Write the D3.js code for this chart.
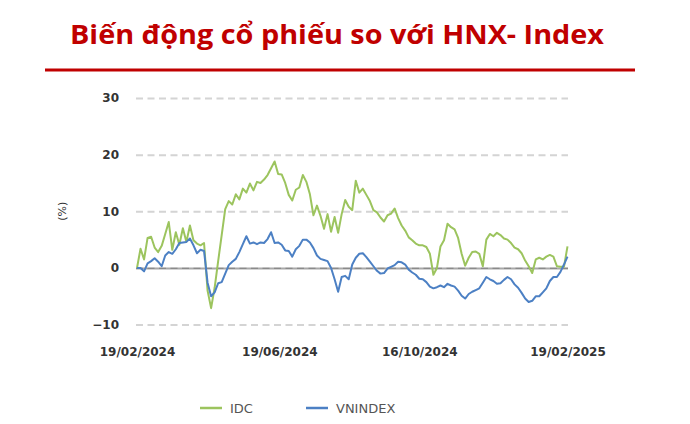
<!DOCTYPE html>
<html><head><meta charset="utf-8">
<script src="https://cdn.jsdelivr.net/npm/d3@7"></script>
<style>body{margin:0;background:#fff}svg{display:block}</style>
</head><body><svg id="c" width="690" height="424"></svg>
<script>
const title = "Biến động cổ phiếu so với HNX- Index";
const yAxisTitle = "(%)";
const seriesNames = ["IDC", "VNINDEX"];
const yTicks = [-10, 0, 10, 20, 30];
const xTickLabels = ["19/02/2024", "19/06/2024", "16/10/2024", "19/02/2025"];

const dates = [
"2024-02-19","2024-02-22","2024-02-25","2024-02-28",
"2024-03-02","2024-03-05","2024-03-08","2024-03-11","2024-03-14","2024-03-17","2024-03-20","2024-03-23","2024-03-26","2024-03-29",
"2024-04-01","2024-04-04","2024-04-07","2024-04-10","2024-04-13","2024-04-16","2024-04-19","2024-04-22","2024-04-25","2024-04-28",
"2024-05-01","2024-05-04","2024-05-07","2024-05-10","2024-05-13","2024-05-16","2024-05-19","2024-05-22","2024-05-25","2024-05-28","2024-05-31",
"2024-06-03","2024-06-06","2024-06-09","2024-06-12","2024-06-15","2024-06-18","2024-06-21","2024-06-24","2024-06-27","2024-06-30",
"2024-07-03","2024-07-06","2024-07-09","2024-07-12","2024-07-15","2024-07-18","2024-07-21","2024-07-24","2024-07-27","2024-07-30",
"2024-08-02","2024-08-05","2024-08-08","2024-08-11","2024-08-14","2024-08-17","2024-08-20","2024-08-23","2024-08-26","2024-08-29",
"2024-09-01","2024-09-04","2024-09-07","2024-09-10","2024-09-13","2024-09-16","2024-09-19","2024-09-22","2024-09-25","2024-09-28",
"2024-10-01","2024-10-04","2024-10-07","2024-10-10","2024-10-13","2024-10-16","2024-10-19","2024-10-22","2024-10-25","2024-10-28","2024-10-31",
"2024-11-03","2024-11-06","2024-11-09","2024-11-12","2024-11-15","2024-11-18","2024-11-21","2024-11-24","2024-11-27","2024-11-30",
"2024-12-03","2024-12-06","2024-12-09","2024-12-12","2024-12-15","2024-12-18","2024-12-21","2024-12-24","2024-12-27","2024-12-30",
"2025-01-02","2025-01-05","2025-01-08","2025-01-11","2025-01-14","2025-01-17","2025-01-20","2025-01-23","2025-01-26","2025-01-29",
"2025-02-01","2025-02-04","2025-02-07","2025-02-10","2025-02-13","2025-02-16","2025-02-19"
];

const idc = [
0.0,3.4,1.5,5.3,5.5,3.6,2.8,3.9,6.0,8.1,
3.2,6.3,4.1,7.0,4.6,7.5,4.9,4.3,4.0,4.4,
-4.0,-7.1,-3.5,1.2,5.8,10.4,11.8,11.2,13.0,12.1,
14.0,13.3,14.9,13.7,15.2,15.0,15.6,16.4,17.6,18.8,
16.6,16.5,15.0,12.9,11.9,13.8,14.2,16.4,15.2,13.0,
9.3,11.0,9.2,6.9,9.5,6.4,9.0,6.2,9.5,12.0,
10.8,10.2,15.4,13.3,14.0,12.9,11.8,10.2,9.8,8.9,
8.2,9.3,9.6,10.5,8.8,7.5,6.6,5.4,4.9,4.3,
4.0,4.0,3.7,2.5,-1.2,0.0,3.8,4.9,7.8,7.2,
6.8,5.3,2.5,0.4,1.8,2.8,2.9,2.5,0.3,5.0,
6.0,5.6,6.2,5.8,5.2,5.0,4.4,3.6,3.3,2.6,
1.3,0.3,-0.9,1.5,1.8,1.5,2.0,2.3,2.0,0.3,
0.2,0.2,3.8
];

const vnindex = [
0.0,0.0,-0.6,0.8,1.2,1.7,1.1,0.3,2.2,2.8,
2.5,3.3,4.4,4.5,4.6,5.2,4.0,2.6,3.2,3.0,
-2.6,-5.0,-4.3,-2.7,-2.5,-1.0,0.5,1.1,1.6,2.8,
4.2,5.6,4.3,4.5,4.2,4.5,4.4,5.1,6.3,4.4,
4.5,4.1,3.1,3.0,2.0,3.3,3.9,5.0,5.0,4.5,
3.5,2.2,1.6,1.4,1.2,0.0,-2.0,-4.2,-1.6,-1.4,
-2.0,0.6,1.8,2.5,2.6,1.9,1.1,0.3,-0.5,-1.0,
-0.9,-0.1,0.2,0.5,1.1,1.0,0.6,-0.3,-0.8,-1.2,
-1.9,-2.0,-2.5,-3.3,-3.6,-3.4,-3.1,-3.4,-2.8,-3.1,
-3.3,-4.0,-4.9,-5.4,-4.6,-4.2,-3.9,-3.6,-2.6,-1.6,
-2.0,-2.3,-2.8,-2.7,-2.1,-1.6,-2.0,-2.9,-3.5,-4.4,
-5.4,-6.0,-5.8,-5.0,-5.0,-4.3,-3.6,-2.3,-1.6,-1.6,
-0.7,0.6,2.0
];

const colors = ["#9cc45e", "#4c80c4"];
const red = "#c00000";

const parse = d3.timeParse("%Y-%m-%d");
const parseLbl = d3.timeParse("%d/%m/%Y");
const svg = d3.select("#c");

const x = d3.scaleTime()
  .domain([parse(dates[0]), parse(dates[dates.length - 1])])
  .range([137, 567.5]);
const y = d3.scaleLinear().domain([-10, 30]).range([324.6, 98]);

// Title
svg.append("text")
  .attr("x", 70).attr("y", 44)
  .attr("textLength", 534).attr("lengthAdjust", "spacingAndGlyphs")
  .style("font-family", "'Open Sans', sans-serif")
  .style("font-weight", 700).style("font-size", "27px")
  .attr("fill", red).text(title);
svg.append("rect").attr("x", 45).attr("y", 68.5).attr("width", 590).attr("height", 3).attr("fill", red);

// Y axis with gridlines
const gy = svg.append("g").attr("transform", "translate(136,0)")
  .call(d3.axisLeft(y).tickValues(yTicks).tickSize(-432).tickPadding(17).tickFormat(d3.format("d")));
gy.select(".domain").remove();
gy.selectAll(".tick line")
  .attr("stroke", d => d === 0 ? "#a8a8a8" : "#d4d4d4")
  .attr("stroke-width", 2)
  .attr("stroke-dasharray", d => d === 0 ? null : "7,4.5");
gy.selectAll(".tick").filter(d => d === 0).append("line")
  .attr("x2", 432).attr("stroke", "#8a8a8a").attr("stroke-width", 1.2).attr("stroke-dasharray", "7,4.5");
gy.selectAll(".tick text")
  .attr("fill", "#333").style("font-family", "'DejaVu Sans', sans-serif")
  .style("font-weight", 700).style("font-size", "12px");

svg.append("text")
  .attr("transform", `translate(62,${y(10)}) rotate(-90)`)
  .attr("text-anchor", "middle").attr("dy", "0.35em")
  .style("font-family", "'DejaVu Sans', sans-serif").style("font-size", "11px")
  .attr("fill", "#333").text(yAxisTitle);

// X axis
const gx = svg.append("g").attr("transform", "translate(0,343)")
  .call(d3.axisBottom(x).tickValues(xTickLabels.map(parseLbl)).tickSize(0).tickPadding(4)
    .tickFormat(d3.timeFormat("%d/%m/%Y")));
gx.select(".domain").remove();
gx.selectAll(".tick text")
  .attr("fill", "#333").style("font-family", "'DejaVu Sans', sans-serif")
  .style("font-weight", 700).style("font-size", "12px");

// Lines
const series = [idc, vnindex];
const line = d3.line().x((d, i) => x(parse(dates[i]))).y(d => y(d));
series.forEach((vals, k) => {
  svg.append("path").datum(vals)
    .attr("fill", "none").attr("stroke", colors[k]).attr("stroke-width", 2)
    .attr("stroke-linejoin", "round").attr("d", line);
});

// Legend
const legX = [200, 306];
seriesNames.forEach((name, k) => {
  const g = svg.append("g").attr("transform", `translate(${legX[k]},408)`);
  g.append("line").attr("x1", 0).attr("x2", 22).attr("stroke", colors[k]).attr("stroke-width", 2.5);
  g.append("text").attr("x", 30).attr("dy", "0.35em")
    .style("font-family", "'DejaVu Sans', sans-serif").style("font-size", "13px")
    .attr("fill", "#555").text(name);
});
</script>
</body></html>
